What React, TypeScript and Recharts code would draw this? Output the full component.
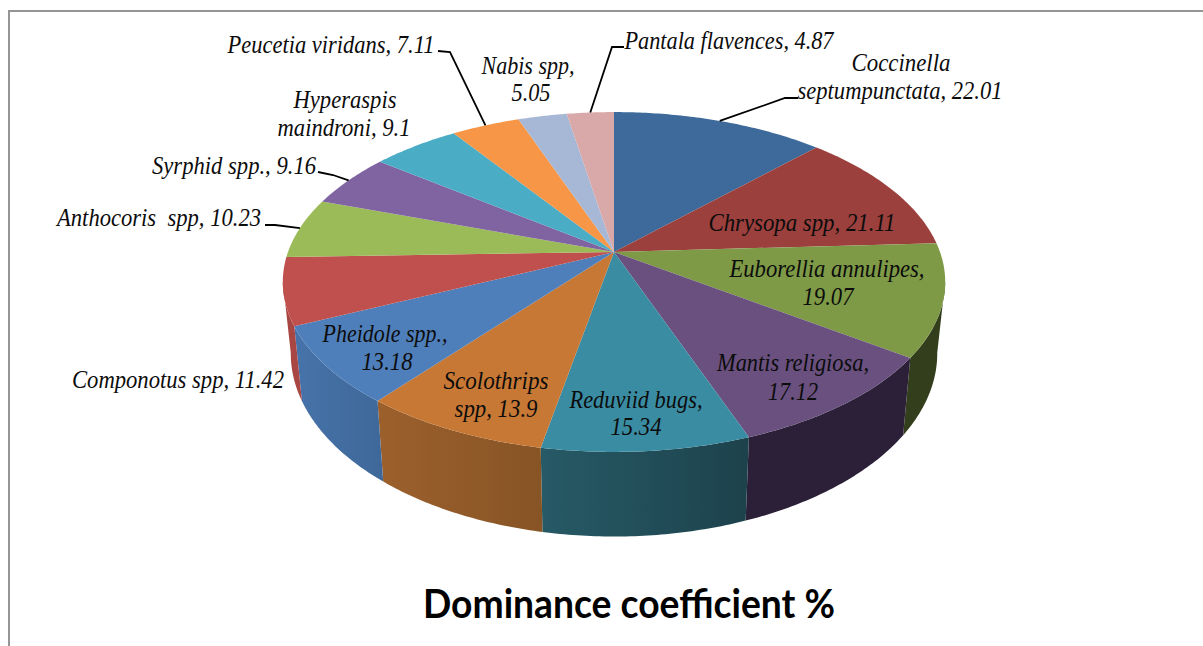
import React from "react";
import { PieChart, Pie } from "recharts";

const categories = [
  "Coccinella septumpunctata", "Chrysopa spp", "Euborellia annulipes", "Mantis religiosa",
  "Reduviid bugs", "Scolothrips spp", "Pheidole spp.", "Componotus spp", "Anthocoris spp",
  "Syrphid spp.", "Hyperaspis maindroni", "Peucetia viridans", "Nabis spp", "Pantala flavences",
];
const values = [22.01, 21.11, 19.07, 17.12, 15.34, 13.9, 13.18, 11.42, 10.23, 9.16, 9.1, 7.11, 5.05, 4.87];
const topColors = ["#3d6a9a", "#9b403d", "#7e9a46", "#69507f", "#3a8ca3", "#c87835", "#4f7fba", "#bf504d", "#9bbb59", "#8064a2", "#4bacc6", "#f79646", "#a7b8d6", "#d9a9a9"];
const wallFrom = ["#3d6a9a", "#9b403d", "#333e1c", "#2b2038", "#265a66", "#9c602c", "#4673aa", "#a84643", "#9bbb59", "#8064a2", "#4bacc6", "#f79646", "#a7b8d6", "#d9a9a9"];
const wallTo = ["#3d6a9a", "#9b403d", "#333e1c", "#2b2038", "#1d424c", "#875425", "#3f6899", "#a84643", "#9bbb59", "#8064a2", "#4bacc6", "#f79646", "#a7b8d6", "#d9a9a9"];
const labelLines = [
  ["Coccinella", "septumpunctata, 22.01"], ["Chrysopa spp, 21.11"], ["Euborellia annulipes,", "19.07"],
  ["Mantis religiosa,", "17.12"], ["Reduviid bugs,", "15.34"], ["Scolothrips", "spp, 13.9"],
  ["Pheidole spp.,", "13.18"], ["Componotus spp, 11.42"], ["Anthocoris  spp, 10.23"], ["Syrphid spp., 9.16"],
  ["Hyperaspis", "maindroni, 9.1"], ["Peucetia viridans, 7.11"], ["Nabis spp,", "5.05"], ["Pantala flavences, 4.87"],
];
// label placement per slice: line centre x, line centre y, line width
const labelBoxes = [
  [[901, 63, 99], [900, 91, 205]], [[802, 223, 187]], [[827, 269, 195], [828, 297, 51]],
  [[793, 363, 152], [793, 392, 50]], [[636, 400, 133], [636, 427, 51]], [[496, 381, 105], [496, 409, 83]],
  [[385, 334, 125], [387, 362, 51]], [[178, 380, 212]], [[159, 218, 204]], [[234, 166, 164]],
  [[345, 100, 103], [344, 128, 133]], [[331, 45, 207]], [[528, 66, 93], [531, 93, 39]], [[729, 41, 209]],
];
// leader line bends (outer end first), null when the label has no leader
const leaders: (number[][] | null)[] = [
  [[798, 98], [785, 98]], null, null, null, null, null, null, null,
  [[265, 225], [275, 225]], [[318, 172], [333, 175]], null, [[438, 51], [450, 52]], null, [[624, 47], [612, 47]],
];

const data = categories.map((name, i) => ({ name, value: values[i], fill: topColors[i], index: i }));

const RY = 0.505;
const PERSP = 0.1765;
const BASE_X = 0.976;
const BASE_Y = 1.078;
const BASE_DY = 69;
const FRONT_START = -10; // recharts angle where the near rim becomes visible on the right
const FRONT_END = -170; // and where it stops on the left

function project(cx: number, cy: number, r: number, angle: number, sx = 1, sy = 1, dy = 0) {
  const t = ((90 - angle) * Math.PI) / 180;
  const u = Math.sin(t);
  const v = Math.cos(t);
  const w = 1 + PERSP * v;
  return [cx + (sx * r * u) / w, cy + dy - (sy * r * RY * v) / w];
}

function arcPoints(p: any, a0: number, a1: number, sx = 1, sy = 1, dy = 0) {
  const n = Math.max(4, Math.ceil(Math.abs(a1 - a0) * 1.5));
  const pts: number[][] = [];
  for (let i = 0; i <= n; i++) {
    pts.push(project(p.cx, p.cy, p.outerRadius, a0 + ((a1 - a0) * i) / n, sx, sy, dy));
  }
  return pts;
}
const toD = (pts: number[][]) => pts.map((q, i) => `${i ? "L" : "M"}${q[0].toFixed(2)} ${q[1].toFixed(2)}`).join(" ");

function TopShape(p: any) {
  const pts = arcPoints(p, p.startAngle, p.endAngle);
  return <path d={`M${p.cx} ${p.cy} ${toD(pts).replace("M", "L")} Z`} fill={p.payload?.fill ?? p.fill} stroke="none" />;
}
function WallShape(p: any) {
  const i = p.payload?.index ?? p.index ?? 0;
  const a0 = Math.min(p.startAngle, FRONT_START);
  const a1 = Math.max(p.endAngle, FRONT_END);
  if (a0 <= a1) return <g />;
  const top = arcPoints(p, a0, a1);
  const bottom = arcPoints(p, a0, a1, BASE_X, BASE_Y, BASE_DY).reverse();
  const id = `wall-${i}`;
  return (
    <g>
      <defs>
        <linearGradient id={id} x1="0" y1="0" x2="1" y2="0">
          <stop offset="0%" stopColor={wallFrom[i]} />
          <stop offset="100%" stopColor={wallTo[i]} />
        </linearGradient>
      </defs>
      <path d={`${toD(top)} ${toD(bottom).replace("M", "L")} Z`} fill={`url(#${id})`} stroke="none" />
    </g>
  );
}

function SliceLabel(p: any) {
  const i = p.index;
  const rim = project(p.cx, p.cy, p.outerRadius, p.midAngle);
  const bends = leaders[i];
  return (
    <g>
      {bends && (
        <polyline points={[...bends, rim].map((q) => q.join(",")).join(" ")} fill="none" stroke="#000" strokeWidth={1.8} />
      )}
      {labelLines[i].map((line, k) => {
        const [x, y, w] = labelBoxes[i][k];
        return (
          <text key={k} x={x} y={y} dy="0.3em" textAnchor="middle" textLength={w} lengthAdjust="spacingAndGlyphs"
            fontFamily="'Liberation Serif', serif" fontStyle="italic" fontSize={25} fill="#0c0c0c" style={{ whiteSpace: "pre" }}>
            {line}
          </text>
        );
      })}
    </g>
  );
}

export default function App() {
  return (
    <div style={{ position: "absolute", left: 0, top: 0, width: 1203, height: 646, overflow: "hidden", background: "#fff" }}>
      <div style={{ position: "absolute", left: 8, top: 10, width: 1195, height: 636, borderLeft: "2px solid #959595", borderTop: "2px solid #959595" }} />
      <PieChart width={1203} height={646} margin={{ top: 0, right: 0, bottom: 0, left: 0 }} style={{ position: "absolute", left: 0, top: 0 }}>
        <Pie data={data} dataKey="value" nameKey="name" cx={614} cy={252} innerRadius={0} outerRadius={326}
          startAngle={90} endAngle={-270} paddingAngle={0} stroke="none" isAnimationActive={false} label={false} labelLine={false}
          shape={WallShape} />
        <Pie data={data} dataKey="value" nameKey="name" cx={614} cy={252} innerRadius={0} outerRadius={326}
          startAngle={90} endAngle={-270} paddingAngle={0} stroke="none" isAnimationActive={false} labelLine={false}
          label={SliceLabel} shape={TopShape} />
        <text x={629} y={604} dy="0.35em" textAnchor="middle" textLength={412} lengthAdjust="spacingAndGlyphs"
          fontFamily="Lato, sans-serif" fontWeight={700} fontSize={41} fill="#000">
          Dominance coefficient %
        </text>
      </PieChart>
    </div>
  );
}
